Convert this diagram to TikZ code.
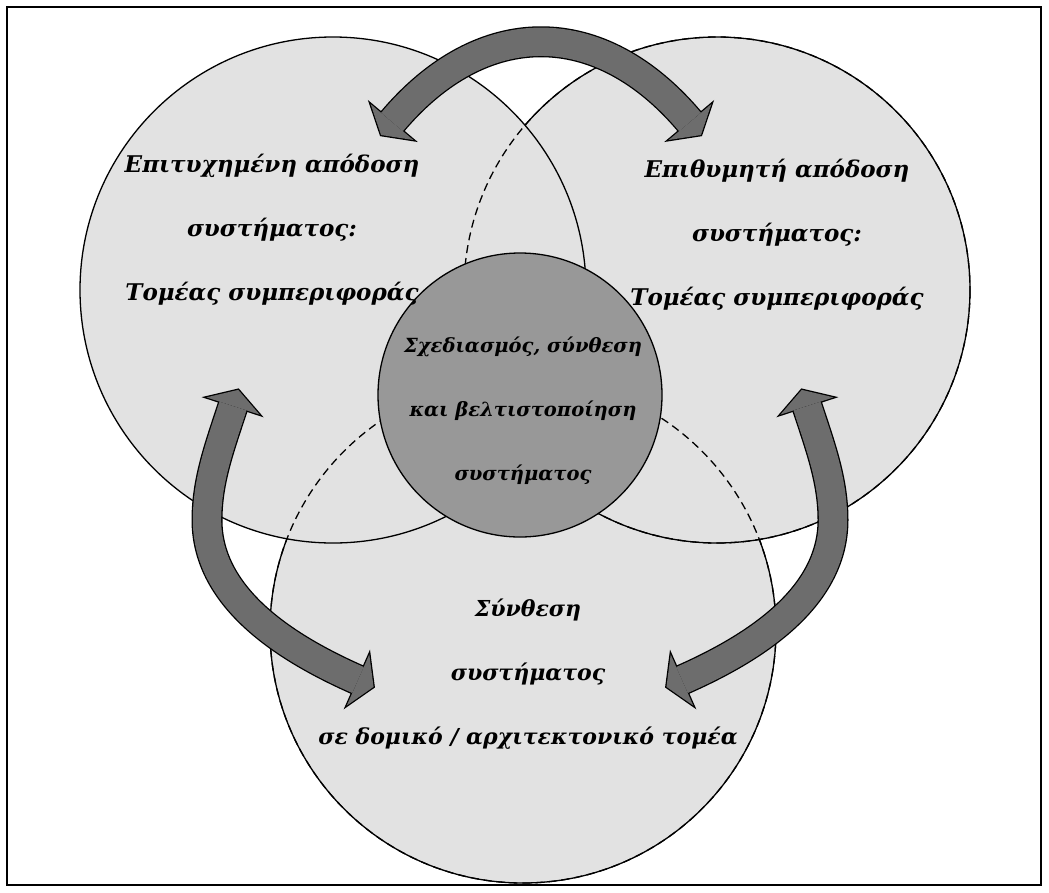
\documentclass[tikz,border=0pt]{standalone}
\usepackage{fontspec}
\setmainfont{DejaVu Serif}
\usetikzlibrary{calc}

\definecolor{ringgray}{HTML}{E2E2E2}
\definecolor{coregray}{HTML}{989898}
\definecolor{arrowgray}{HTML}{6D6D6D}

\tikzset{
	ring/.style={fill=ringgray,draw=black,line width=1.3pt},
	hiddenline/.style={line width=1.3pt,dash pattern=on 8pt off 5pt},
	venntext/.style={font=\fontsize{#1}{64}\selectfont\bfseries\itshape,align=center,inner sep=0pt},
	venntext/.default=23,
	rim/.style={line width=31pt,black},
	body/.style={line width=28.4pt,arrowgray},
	headrim/.style={fill=black,draw=black,line width=2.6pt,line join=miter},
	headbody/.style={fill=arrowgray},
}
\newcommand{\headat}[2]{($(#1)!28pt!90:(#2)$) -- ($(#1)!-17pt!(#2)$) -- ($(#1)!28pt!-90:(#2)$) -- cycle}

\begin{document}
\begin{tikzpicture}[x=1pt,y=-1pt]
	\useasboundingbox (0,0) rectangle (1049,892);
	\draw[line width=2pt] (7,7) rectangle (1041,885);

	\path[ring] (523,630) circle (253);
	\path[ring] (717,290) circle (253);
	\path[ring] (333,290) circle (253);
	\draw[hiddenline] (523,630) circle (253);
	\draw[hiddenline] (717,290) circle (253);
	\path[ring,fill=coregray] (520,395) circle (142);

	\coordinate (ts) at (392,122);
	\coordinate (tsc) at (482,15);
	\coordinate (tec) at (600,15);
	\coordinate (te) at (690,122);
	\coordinate (ls) at (233,406);
	\coordinate (lsc) at (220,446);
	\coordinate (lm) at (207,520);
	\coordinate (lec) at (290,650);
	\coordinate (le) at (358,680);
	\coordinate (rs) at (807,406);
	\coordinate (rsc) at (820,446);
	\coordinate (rm) at (833,520);
	\coordinate (rec) at (750,650);
	\coordinate (re) at (682,680);

	\draw[rim] (ts) .. controls (tsc) and (tec) .. (te);
	\draw[rim] (ls) .. controls (lsc) and (207,480) .. (lm) .. controls (207,600) and (lec) .. (le);
	\draw[rim] (rs) .. controls (rsc) and (833,480) .. (rm) .. controls (833,600) and (rec) .. (re);
	\path[headrim] \headat{ts}{tsc} \headat{te}{tec} \headat{ls}{lsc} \headat{le}{lec} \headat{rs}{rsc} \headat{re}{rec};
	\draw[body] (ts) .. controls (tsc) and (tec) .. (te);
	\draw[body] (ls) .. controls (lsc) and (207,480) .. (lm) .. controls (207,600) and (lec) .. (le);
	\draw[body] (rs) .. controls (rsc) and (833,480) .. (rm) .. controls (833,600) and (rec) .. (re);
	\path[headbody] \headat{ts}{tsc} \headat{te}{tec} \headat{ls}{lsc} \headat{le}{lec} \headat{rs}{rsc} \headat{re}{rec};

	\node[venntext] (pastperf) at (272,230) {Επιτυχημένη απόδοση\\συστήματος:\\Τομέας συμπεριφοράς};
	\node[venntext] (goalperf) at (777,235) {Επιθυμητή απόδοση\\συστήματος:\\Τομέας συμπεριφοράς};
	\node[venntext=19.5] (design) at (523,411) {Σχεδιασμός, σύνθεση\\και βελτιστοποίηση\\συστήματος};
	\node[venntext=22] (structure) at (528,674) {Σύνθεση\\συστήματος\\σε δομικό / αρχιτεκτονικό τομέα};
\end{tikzpicture}
\end{document}
